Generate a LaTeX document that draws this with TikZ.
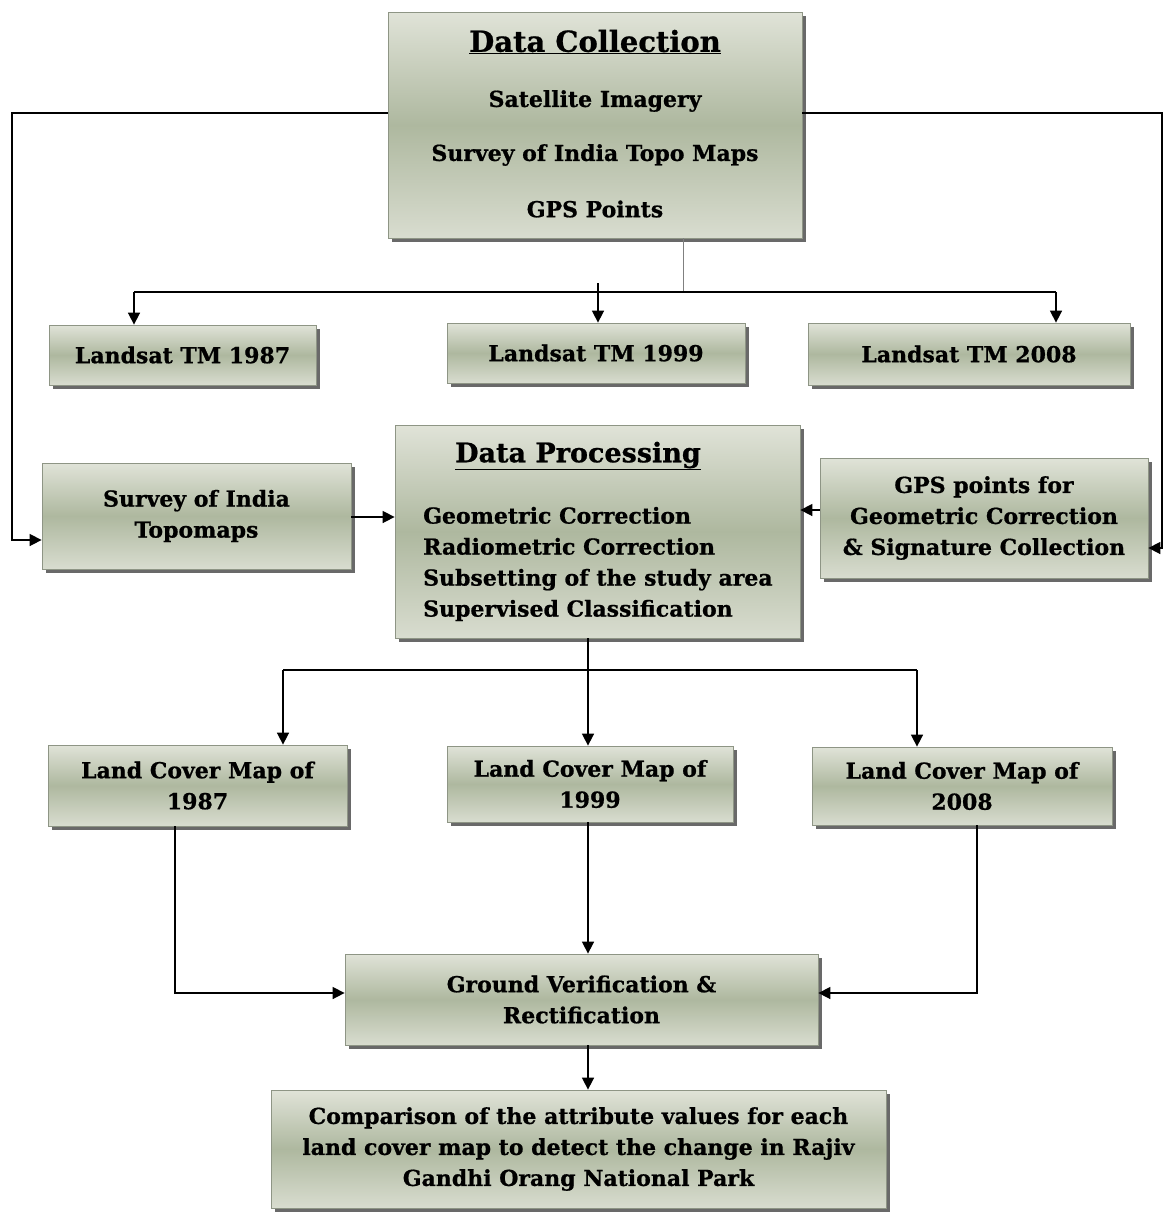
\documentclass[tikz,border=0pt]{standalone}
\usepackage{fontspec}
\setmainfont{DejaVu Serif}[BoldFeatures={FakeBold=0.8}]
\usetikzlibrary{arrows.meta,shadows}
\definecolor{boxlight}{HTML}{E0E3D8}
\definecolor{boxdark}{HTML}{AEB89F}
\definecolor{boxedge}{HTML}{8E9585}
\begin{document}
\begin{tikzpicture}[x=1pt,y=-1pt,
  fbox/.style={draw=boxedge, line width=0.8pt, shading=axis, top color=boxlight, bottom color=boxlight!85!boxdark, middle color=boxdark,
    drop shadow={shadow xshift=3.5pt, shadow yshift=-3.5pt, fill=black!65, opacity=0.9},
    align=center, inner sep=0pt, font=\bfseries\fontsize{22}{31}\selectfont},
  txt/.style={inner sep=0pt, font=\bfseries\fontsize{22}{31}\selectfont},
  ttl/.style={inner sep=0pt, font=\bfseries\fontsize{29}{32}\selectfont},
  conn/.style={line width=1.6pt, black},
  arr/.style={conn, -{Triangle[length=12pt,width=12pt]}}
]
\useasboundingbox (0,0) rectangle (1163,1213);
% boxes
\node[fbox, minimum width=414, minimum height=226] (dc) at (595,125) {};
\node[ttl] (dct) at (595,42) {\underline{Data Collection}};
\node[txt] (dc1) at (595,101) {Satellite Imagery};
\node[txt] (dc2) at (595,155) {Survey of India Topo Maps};
\node[txt] (dc3) at (595,209) {GPS Points};

\node[fbox, minimum width=267, minimum height=60] (l87) at (182.5,355) {Landsat TM 1987};
\node[fbox, minimum width=298, minimum height=60] (l99) at (596,353) {Landsat TM 1999};
\node[fbox, minimum width=322, minimum height=62] (l08) at (969,354) {Landsat TM 2008};

\node[fbox, minimum width=309, minimum height=106] (soi) at (196.5,516) {Survey of India\\Topomaps};

\node[fbox, minimum width=405, minimum height=213] (dp) at (597.5,531.5) {};
\node[ttl, font=\bfseries\fontsize{27}{32}\selectfont, anchor=west] (dpt) at (455,456) {\underline{Data Processing}};
\node[txt, anchor=west, align=left] (dpl) at (423,564) {Geometric Correction\\Radiometric Correction\\Subsetting of the study area\\Supervised Classification};

\node[fbox, minimum width=328, minimum height=120] (gps) at (984,518) {GPS points for\\Geometric Correction\\\& Signature Collection};

\node[fbox, minimum width=299, minimum height=81] (lc87) at (197.5,785.5) {Land Cover Map of\\1987};
\node[fbox, minimum width=286, minimum height=76] (lc99) at (590,784) {Land Cover Map of\\1999};
\node[fbox, minimum width=300, minimum height=78] (lc08) at (962,786) {Land Cover Map of\\2008};

\node[fbox, minimum width=473, minimum height=91] (gv) at (581.5,999.5) {Ground Verification \&\\Rectification};
\node[fbox, minimum width=615, minimum height=118] (cmp) at (578.5,1149) {Comparison of the attribute values for each\\land cover map to detect the change in Rajiv\\Gandhi Orang National Park};

% coordinates
\coordinate (lt) at (12,113);
\coordinate (rt) at (1162,113);
\coordinate (hb) at (683,292);

% connectors
\draw[arr] (dc.west |- lt) -- (lt) |- (soi.west |- 0,540);
\draw[arr] (dc.east |- rt) -- (rt) |- (gps.east |- 0,548);
\draw[gray, line width=0.8pt] (dc.south -| hb) -- (hb);
\draw[conn] (134,292) -- (1056,292);
\draw[arr] (134,292) -- (l87.north -| 134,0);
\draw[arr] (598,283) -- (l99.north -| 598,0);
\draw[arr] (1056,292) -- (l08.north -| 1056,0);
\draw[arr] (soi.east |- 0,517) -- (dp.west |- 0,517);
\draw[arr] (gps.west |- 0,510) -- (dp.east |- 0,510);
\draw[arr] (dp.south -| 588,0) -- (lc99.north -| 588,0);
\draw[conn] (283,670) -- (917,670);
\draw[arr] (283,670) -- (lc87.north -| 283,0);
\draw[arr] (917,670) -- (lc08.north -| 917,0);
\draw[arr] (lc87.south -| 175,0) -- (175,993) -- (gv.west |- 0,993);
\draw[arr] (lc99.south -| 588,0) -- (gv.north -| 588,0);
\draw[arr] (lc08.south -| 977,0) -- (977,993) -- (gv.east |- 0,993);
\draw[arr] (gv.south -| 588,0) -- (cmp.north -| 588,0);
\end{tikzpicture}
\end{document}
